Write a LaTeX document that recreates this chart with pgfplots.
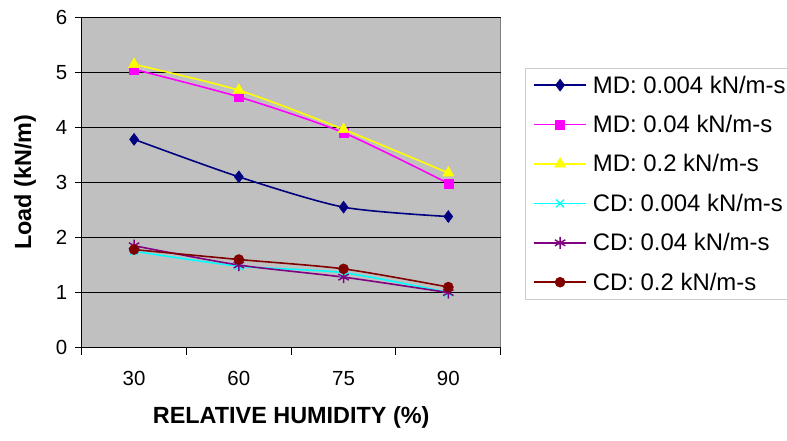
\documentclass[border=0pt]{standalone}
\usepackage{pgfplots}
\pgfplotsset{compat=1.18}
\usepackage{fontspec}
\setmainfont{Liberation Sans}

\definecolor{plotgray}{HTML}{C0C0C0}
\definecolor{mdnavy}{HTML}{000080}
\definecolor{mdmag}{HTML}{FF00FF}
\definecolor{mdyel}{HTML}{FFFF00}
\definecolor{cdcyan}{HTML}{00FFFF}
\definecolor{cdpurp}{HTML}{800080}
\definecolor{cdred}{HTML}{800000}

\begin{document}
\begin{tikzpicture}
\useasboundingbox (0,0) rectangle (787bp,441bp);
\begin{axis}[
  at={(81.7bp,93.3bp)}, anchor=south west,
  scale only axis,
  width=419bp, height=330.7bp,
  xmin=-0.5, xmax=3.5,
  ymin=0, ymax=6,
  xtick={-0.5,0.5,1.5,2.5,3.5},
  xticklabels={},
  extra x ticks={0,1,2,3},
  extra x tick labels={30,60,75,90},
  extra x tick style={major tick length=0pt, grid=none,
    xticklabel style={yshift=-20bp}},
  ytick={0,1,2,3,4,5,6},
  tick align=outside,
  major tick length=7bp,
  tick style={black, line width=1pt},
  axis lines*=left,
  axis line style={black, line width=1pt, -},
  axis background/.style={fill=plotgray, draw=gray, line width=0.8pt},
  ymajorgrids,
  major grid style={black, line width=1pt},
  /pgf/number format/assume math mode=true,
  ticklabel style={font=\fontsize{20.5}{24}\selectfont},
  yticklabel style={xshift=-4bp},
  xlabel={\textbf{RELATIVE HUMIDITY (\%)}},
  ylabel={\textbf{Load (kN/m)}},
  label style={font=\fontsize{23.5}{28}\selectfont},
  xlabel style={at={(axis description cs:0.5,-0.212)}, anchor=center},
  ylabel style={at={(axis description cs:-0.1353,0.5)}, anchor=center, rotate=0},
  every axis plot/.append style={line width=1.6pt, smooth, tension=0.45},
  legend image code/.code={%
    \draw[mark repeat=2,mark phase=2,#1] plot coordinates {(0bp,0bp) (26bp,0bp) (52bp,0bp)};},
  legend cell align=left,
  legend style={at={(1.058,0.846)}, anchor=north west,
    draw=gray!40, fill=white, line width=0.6pt,
    inner xsep=8bp, inner ysep=0bp,
    row sep=5.6bp, column sep=4bp,
    font=\fontsize{24}{28}\selectfont,
    nodes={inner xsep=2bp, inner ysep=7.5bp}},
]
\addplot[mdnavy, mark=diamond*, mark size=6bp, mark options={solid, fill=mdnavy, line width=0.5pt}]
  coordinates {(0,3.78) (1,3.10) (2,2.55) (3,2.38)};
\addlegendentry{MD: 0.004 kN/m-s}
\addplot[mdmag, mark=square*, mark size=4.5bp, mark options={solid, fill=mdmag, line width=0.5pt}]
  coordinates {(0,5.05) (1,4.55) (2,3.90) (3,2.98)};
\addlegendentry{MD: 0.04 kN/m-s}
\addplot[mdyel, mark=triangle*, mark size=6.5bp, mark options={solid, fill=mdyel, line width=0.5pt}]
  coordinates {(0,5.14) (1,4.67) (2,3.96) (3,3.17)};
\addlegendentry{MD: 0.2 kN/m-s}
\addplot[cdcyan, mark=x, mark size=5.5bp, mark options={solid, line width=1.4pt}]
  coordinates {(0,1.75) (1,1.48) (2,1.36) (3,1.00)};
\addlegendentry{CD: 0.004 kN/m-s}
\addplot[cdpurp, mark=asterisk, mark size=6bp, mark options={solid, line width=1.4pt}]
  coordinates {(0,1.85) (1,1.50) (2,1.28) (3,1.00)};
\addlegendentry{CD: 0.04 kN/m-s}
\addplot[cdred, mark=*, mark size=5bp, mark options={solid, fill=cdred, line width=0.5pt}]
  coordinates {(0,1.78) (1,1.60) (2,1.43) (3,1.10)};
\addlegendentry{CD: 0.2 kN/m-s}
\end{axis}
\end{tikzpicture}
\end{document}
